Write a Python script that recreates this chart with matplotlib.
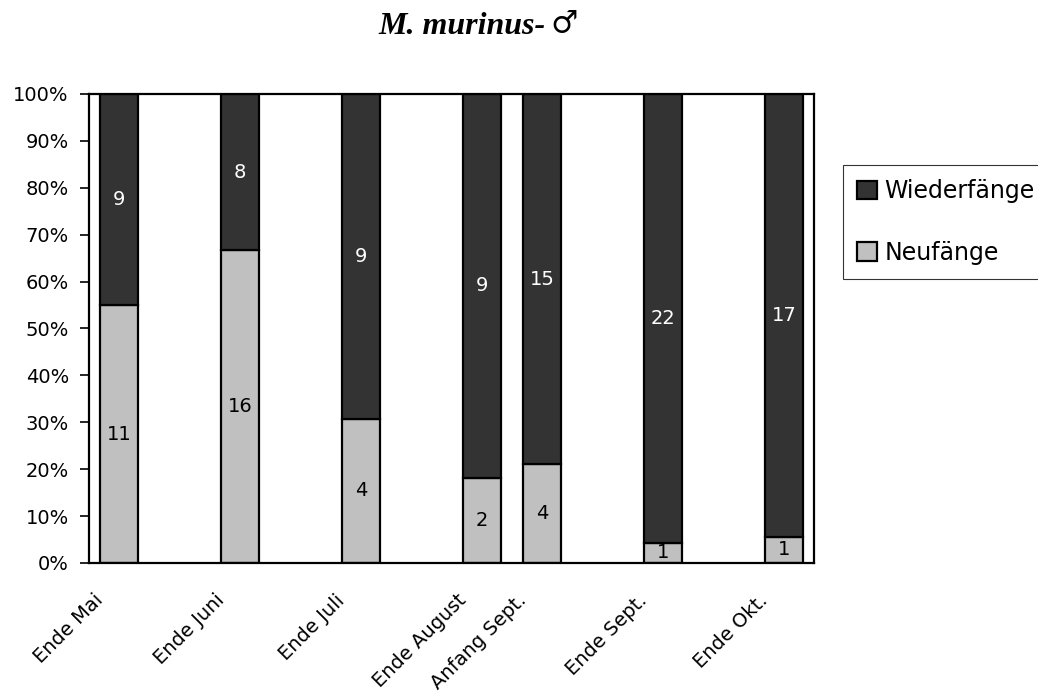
import matplotlib.pyplot as plt
import matplotlib.transforms as mtransforms
import numpy as np

categories = ['Ende Mai', 'Ende Juni', 'Ende Juli', 'Ende August',
              'Anfang Sept.', 'Ende Sept.', 'Ende Okt.']
neufaenge = [11, 16, 4, 2, 4, 1, 1]
wiederfaenge = [9, 8, 9, 9, 15, 22, 17]

plt.rcParams['font.family'] = ['DejaVu Sans']

neu = np.array(neufaenge, dtype=float)
wie = np.array(wiederfaenge, dtype=float)
tot = neu + wie
neu_p = neu / tot * 100
wie_p = wie / tot * 100

# abstand zwischen August und Anfang Sept. nur halb so gross
x = np.array([0, 2, 4, 6, 7, 9, 11])
w = 0.63

fig = plt.figure(figsize=(10.38, 6.93), dpi=100)
ax = fig.add_axes([0.0857, 0.1876, 0.6985, 0.6768])

b1 = ax.bar(x, neu_p, w, color='#c0c0c0', edgecolor='black', linewidth=1.6,
            label='Neufänge')
b2 = ax.bar(x, wie_p, w, bottom=neu_p, color='#333333', edgecolor='black',
            linewidth=1.6, label='Wiederfänge')

for i in range(len(x)):
    ax.text(x[i], neu_p[i] / 2, '%d' % neu[i], ha='center', va='center',
            fontsize=14, color='black')
    ax.text(x[i], neu_p[i] + wie_p[i] / 2, '%d' % wie[i], ha='center',
            va='center', fontsize=14, color='white')

ax.set_xlim(-0.5, 11.5)
ax.set_ylim(0, 100)
ax.set_yticks(np.arange(0, 101, 10))
ax.set_yticklabels(['%d%%' % v for v in range(0, 101, 10)], fontsize=14)
ax.set_xticks(x)
ax.set_xticklabels(categories, rotation=45, ha='right', va='top', fontsize=14)
ax.tick_params(axis='x', length=0, pad=20)
ax.tick_params(axis='y', length=6.5, width=1.2, direction='out', pad=8)
off = mtransforms.ScaledTranslation(-12 / 100, 0, fig.dpi_scale_trans)
for lab in ax.get_xticklabels():
    lab.set_transform(lab.get_transform() + off)
for s in ax.spines.values():
    s.set_linewidth(1.6)

h, l = ax.get_legend_handles_labels()
leg = fig.legend(h[::-1], l[::-1], loc='upper left',
                 bbox_to_anchor=(0.812, 0.762), fontsize=17, frameon=True,
                 fancybox=False, edgecolor='black', handlelength=0.85,
                 handleheight=0.85, handletextpad=0.3, labelspacing=1.6,
                 borderpad=0.6, borderaxespad=0)
leg.get_frame().set_linewidth(0.8)

fig.text(0.526, 0.962, 'M. murinus-', ha='right', va='center', fontsize=23,
         fontweight='bold', fontstyle='italic', family='Liberation Serif')
fig.text(0.530, 0.965, '♂', ha='left', va='center', fontsize=22,
         family=['DejaVu Serif'])

fig.savefig('out.png', dpi=100)
